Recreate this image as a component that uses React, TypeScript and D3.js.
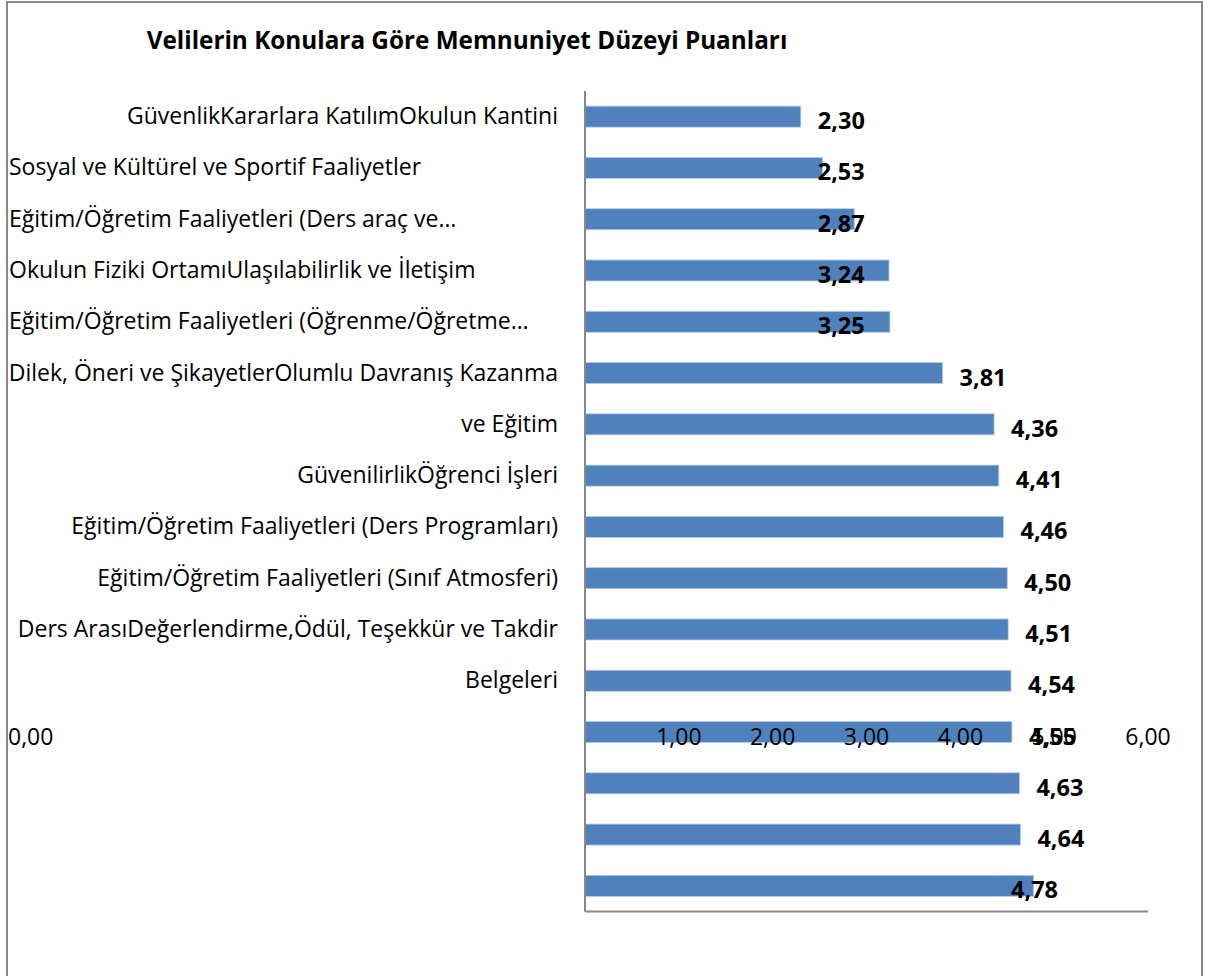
import * as d3 from "d3";

// top-to-bottom order as drawn in the chart
const values = [2.3, 2.53, 2.87, 3.24, 3.25, 3.81, 4.36, 4.41, 4.46, 4.5, 4.51, 4.54, 4.55, 4.63, 4.64, 4.78];

// the category labels only cover the first 12 rows in the original
const categoryLabels = [
  "GüvenlikKararlara KatılımOkulun Kantini",
  "Sosyal ve Kültürel ve Sportif Faaliyetler",
  "Eğitim/Öğretim Faaliyetleri (Ders araç ve…",
  "Okulun Fiziki OrtamıUlaşılabilirlik ve İletişim",
  "Eğitim/Öğretim Faaliyetleri (Öğrenme/Öğretme…",
  "Dilek, Öneri ve ŞikayetlerOlumlu Davranış Kazanma",
  "ve Eğitim",
  "GüvenilirlikÖğrenci İşleri",
  "Eğitim/Öğretim Faaliyetleri (Ders Programları)",
  "Eğitim/Öğretim Faaliyetleri (Sınıf Atmosferi)",
  "Ders ArasıDeğerlendirme,Ödül, Teşekkür ve Takdir",
  "Belgeleri",
];

const xTicks = [0, 1, 2, 3, 4, 5, 6];

const title = "Velilerin Konulara Göre Memnuniyet Düzeyi Puanları";

const W = 1213;
const H = 976;
const FONT = "'Open Sans', sans-serif";
const BAR = "#4F81BD";
const GREY = "#888888";

// labels that Excel left-aligned (wrapped / truncated ones)
const leftAligned = new Set([1, 2, 3, 4]);
// data labels dragged by hand in the original (value units where label starts)
const movedLabels: Record<number, number> = { 1: 2.48, 2: 2.48, 3: 2.48, 4: 2.48, 15: 4.54 };

const fmt = (v: number) => d3.format(".2f")(v).replace(".", ",");

export default function App() {
  const x = d3.scaleLinear().domain([0, 6]).range([585, 1148]);
  const y = d3
    .scaleBand<number>()
    .domain(d3.range(values.length))
    .range([91, 911.5])
    .paddingInner(0.59)
    .paddingOuter(0.295);
  const bw = y.bandwidth();

  return (
    <svg
      width={W}
      height={H}
      style={{ position: "absolute", left: 0, top: 0, fontFamily: FONT }}
    >
      <rect x={0} y={0} width={W} height={H} fill="#fff" />
      {/* chart frame */}
      <rect x={7} y={2} width={1195} height={990} fill="none" stroke={GREY} strokeWidth={2} />

      <text x={467} y={49} textAnchor="middle" fontWeight="bold" fontSize={24.3} fill="#000">
        {title}
      </text>

      {/* bars */}
      {values.map((v, i) => (
        <rect
          key={i}
          x={x(0)}
          y={y(i)}
          width={x(v) - x(0)}
          height={bw}
          fill={BAR}
          stroke="#B9CDE5"
          strokeWidth={0.8}
        />
      ))}

      {/* axes */}
      <line x1={x(0)} x2={x(0)} y1={91} y2={911.5} stroke={GREY} strokeWidth={2} />
      <line x1={x(0)} x2={x(6)} y1={911.5} y2={911.5} stroke={GREY} strokeWidth={2} />

      {/* category labels */}
      {categoryLabels.map((c, i) => (
        <text
          key={c}
          x={leftAligned.has(i) ? 9 : 558}
          y={(y(i) ?? 0) + bw / 2 + 7.5}
          textAnchor={leftAligned.has(i) ? "start" : "end"}
          fontSize={23}
          fill="#000"
        >
          {c}
        </text>
      ))}

      {/* value labels */}
      {values.map((v, i) => {
        const lx = movedLabels[i] !== undefined ? x(movedLabels[i]) : x(v) + 17;
        return (
          <text
            key={i}
            x={lx}
            y={(y(i) ?? 0) + bw / 2 + 12.5}
            fontWeight="bold"
            fontSize={23.5}
            fill="#000"
          >
            {fmt(v)}
          </text>
        );
      })}

      {/* x tick labels (sitting in the middle of the plot, as in the original) */}
      {xTicks.map((t) => (
        <text
          key={t}
          x={t === 0 ? 8 : x(t)}
          y={745}
          textAnchor={t === 0 ? "start" : "middle"}
          fontSize={23}
          fill="#000"
        >
          {fmt(t)}
        </text>
      ))}
    </svg>
  );
}
